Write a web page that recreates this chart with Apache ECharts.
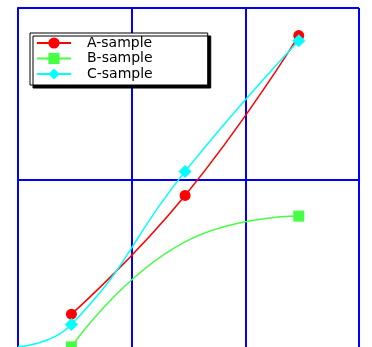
<!DOCTYPE html>
<html><head><meta charset="utf-8">
<script src="https://cdn.jsdelivr.net/npm/echarts@6/dist/echarts.min.js"></script>
<style>html,body{margin:0;padding:0;background:#fff}#c{width:372px;height:347px}</style>
</head><body><div id="c"></div>
<script>
var seriesNames = ['A-sample', 'B-sample', 'C-sample'];
var aX = [0.47, 1.47, 2.47];
var aValues = [0.22, 0.91, 1.84];
var bX = [0.47, 1.47, 2.47];
var bValues = [0.03, 0.64, 0.79];
var bMarkers = [true, false, true];
var cX = [0, 0.47, 1.47, 2.47];
var cValues = [0.03, 0.16, 1.05, 1.81];
var cMarkers = [false, true, true, true];

function pairs(xs, ys, marks) {
  return xs.map(function (x, i) {
    var d = { value: [x, ys[i]] };
    if (marks && !marks[i]) d.symbol = 'none';
    return d;
  });
}
var chart = echarts.init(document.getElementById('c'));
var blue = '#0000ff';
chart.setOption({
  animation: false,
  backgroundColor: '#fff',
  grid: { left: 18, width: 341, top: 8, height: 344, outerBoundsMode: 'none', containLabel: false },
  xAxis: {
    type: 'value', min: 0, max: 3, interval: 1,
    axisLine: { show: true, onZero: false, lineStyle: { color: blue, width: 2 } },
    axisTick: { show: false }, axisLabel: { show: false },
    splitLine: { show: true, lineStyle: { color: blue, width: 2 } }
  },
  yAxis: {
    type: 'value', min: 0, max: 2, interval: 1,
    axisLine: { show: true, onZero: false, lineStyle: { color: blue, width: 2 } },
    axisTick: { show: false }, axisLabel: { show: false },
    splitLine: { show: true, lineStyle: { color: blue, width: 2 } }
  },
  legend: {
    left: 30, top: 33, orient: 'vertical', itemGap: 1.5,
    itemWidth: 34, itemHeight: 14,
    padding: [3, 55, 4, 6],
    backgroundColor: '#fff', borderColor: '#000', borderWidth: 1,
    shadowColor: '#000', shadowOffsetX: 3, shadowOffsetY: 3, shadowBlur: 0,
    textStyle: { fontSize: 14, lineHeight: 14, color: '#000', fontFamily: 'DejaVu Sans', padding: [0, 0, 0, 11] },
    data: seriesNames
  },
  series: [
    { name: seriesNames[0], type: 'line', smooth: 0.5, data: pairs(aX, aValues),
      symbol: 'circle', symbolSize: 11, color: '#ff0000', lineStyle: { width: 1.5 } },
    { name: seriesNames[1], type: 'line', smooth: 0.5, data: pairs(bX, bValues, bMarkers),
      symbol: 'rect', symbolSize: 11, color: '#44ff44', lineStyle: { width: 1.5 } },
    { name: seriesNames[2], type: 'line', smooth: 0.5, data: pairs(cX, cValues, cMarkers),
      symbol: 'diamond', symbolSize: 13, color: '#00ffff', lineStyle: { width: 1.5 } }
  ]
});
</script></body></html>
